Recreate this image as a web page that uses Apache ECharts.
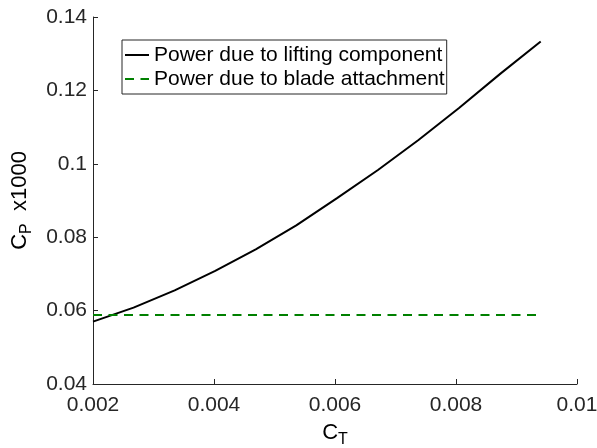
<!DOCTYPE html>
<html>
<head>
<meta charset="utf-8">
<script src="https://cdn.jsdelivr.net/npm/echarts@6/dist/echarts.min.js"></script>
<style>
  html, body { margin: 0; padding: 0; background: #fff; }
  #chart { width: 597px; height: 448px; }
</style>
</head>
<body>
<div id="chart"></div>
<script>
// thrust coefficient samples
var ct = [0.002, 0.00267, 0.00335, 0.00402, 0.00469, 0.00536, 0.00604, 0.00671, 0.00738, 0.00805, 0.00873, 0.0094];
// power due to lifting component (x1000)
var cpLift = [0.0570, 0.0608, 0.0655, 0.0708, 0.0767, 0.0832, 0.0907, 0.0983, 0.1065, 0.1152, 0.1245, 0.1333];
// power due to blade attachment (constant)
var cpAttachX = [0.002, 0.0094];
var cpAttach = [0.0588, 0.0588];

var names = ['Power due to lifting component', 'Power due to blade attachment'];

var ink = '#262626';
var font = '"Liberation Sans", Arial, sans-serif';

var chart = echarts.init(document.getElementById('chart'), null, { renderer: 'canvas' });

var option = {
    animation: false,
    backgroundColor: '#fff',
    grid: { left: 93, right: 20, top: 17, bottom: 64, containLabel: false, outerBoundsMode: 'none' },
    legend: {
        orient: 'vertical',
        left: 122,
        top: 40,
        padding: [3, 2, 3, 2],
        itemGap: 0,
        itemWidth: 24,
        itemHeight: 10,
        borderColor: ink,
        borderWidth: 1,
        borderRadius: 0,
        backgroundColor: '#fff',
        itemStyle: { opacity: 0 },
        textStyle: { fontFamily: font, fontSize: 21, color: '#000', lineHeight: 24 },
        data: names
    },
    xAxis: {
        type: 'value',
        min: 0.002,
        max: 0.01,
        interval: 0.002,
        name: '{c|C}{s|T}',
        nameLocation: 'middle',
        nameGap: 34,
        nameTextStyle: {
            rich: {
                c: { fontFamily: font, fontSize: 22, color: '#000' },
                s: { fontFamily: font, fontSize: 16, color: '#000', verticalAlign: 'bottom', padding: [14, 0, 0, 0] }
            }
        },
        axisLine: { show: true, onZero: false, lineStyle: { color: ink, width: 1 } },
        axisTick: { show: true, inside: true, length: 5, lineStyle: { color: ink } },
        axisLabel: {
            fontFamily: font, fontSize: 21, color: ink, margin: 11,
            formatter: function (v) { return String(+v.toFixed(4)); }
        },
        splitLine: { show: false }
    },
    yAxis: {
        type: 'value',
        min: 0.04,
        max: 0.14,
        interval: 0.02,
        name: '{c|C}{s|P}{c|  x1000}',
        nameLocation: 'middle',
        nameGap: 58,
        nameRotate: 90,
        nameTextStyle: {
            rich: {
                c: { fontFamily: font, fontSize: 22, color: '#000' },
                s: { fontFamily: font, fontSize: 16, color: '#000', verticalAlign: 'bottom', padding: [14, 0, 0, 0] }
            }
        },
        axisLine: { show: true, onZero: false, lineStyle: { color: ink, width: 1 } },
        axisTick: { show: true, inside: true, length: 5, lineStyle: { color: ink } },
        axisLabel: {
            fontFamily: font, fontSize: 21, color: ink, margin: 6,
            formatter: function (v) { return String(+v.toFixed(4)); }
        },
        splitLine: { show: false }
    },
    series: [
        {
            name: names[0],
            type: 'line',
            data: ct.map(function (x, i) { return [x, cpLift[i]]; }),
            symbol: 'none',
            lineStyle: { color: '#000', width: 2 },
            itemStyle: { color: '#000' }
        },
        {
            name: names[1],
            type: 'line',
            data: cpAttachX.map(function (x, i) { return [x, cpAttach[i]]; }),
            symbol: 'none',
            lineStyle: { color: '#008000', width: 2, type: [9, 6.5] },
            itemStyle: { color: '#008000' }
        }
    ]
};

chart.setOption(option);
</script>
</body>
</html>
